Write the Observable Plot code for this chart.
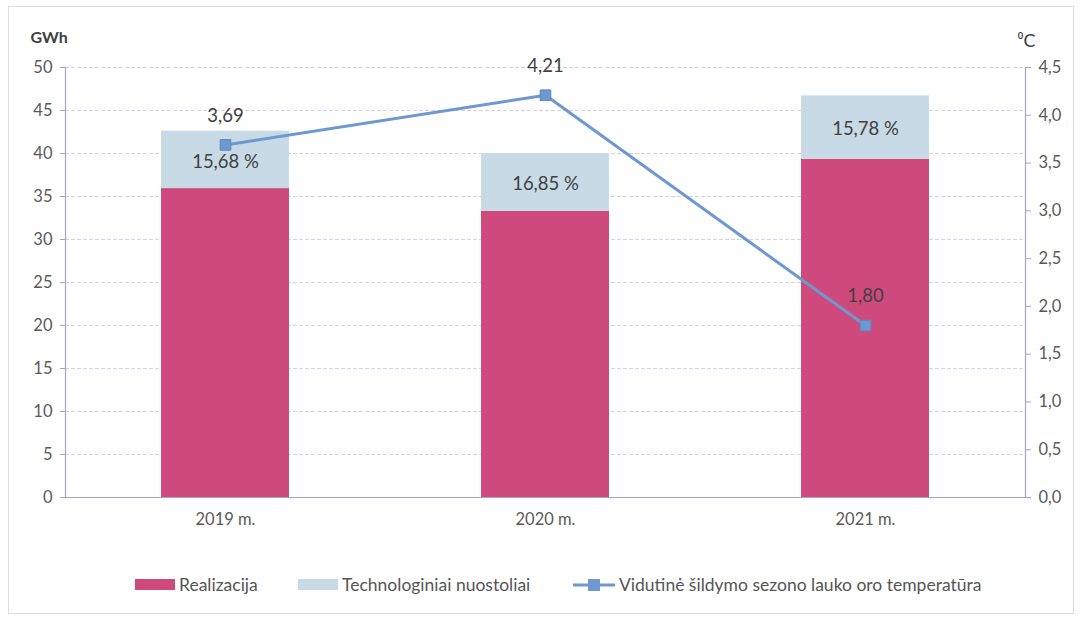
<!DOCTYPE html>
<html>
<head>
<meta charset="utf-8">
<script src="https://cdn.jsdelivr.net/npm/d3@7"></script>
<script src="https://cdn.jsdelivr.net/npm/@observablehq/plot@0.6"></script>
<style>
  html, body { margin: 0; padding: 0; background: #fff; }
  #wrap { position: relative; width: 1081px; height: 622px; overflow: hidden; font-family: Lato, "Open Sans", sans-serif; }
  #frame { position: absolute; left: 8px; top: 6px; width: 1066px; height: 608px; border: 1px solid #dcdde8; box-sizing: border-box; }
  #chart { position: absolute; left: 0; top: 0; }
  #legend { position: absolute; top: 574px; left: 135px; width: 900px; height: 24px; font-size: 17.5px; color: #555; }
  .item { position: absolute; top: 0; display: flex; align-items: center; white-space: nowrap; }
  .sw { width: 40px; height: 11px; margin-right: 4px; }
</style>
</head>
<body>
<div id="wrap">
  <div id="frame"></div>
  <div id="chart"></div>
  <div id="legend"></div>
</div>
<script>
const years = ["2019 m.", "2020 m.", "2021 m."];
const realizacija = [35.92, 33.26, 39.33];
const nuostoliai = [6.68, 6.74, 7.37];
const nuostoliaiPct = [15.68, 16.85, 15.78];
const temperatura = [3.69, 4.21, 1.80];
const gwhTicks = [0, 5, 10, 15, 20, 25, 30, 35, 40, 45, 50];
const tempTicks = [0, 0.5, 1, 1.5, 2, 2.5, 3, 3.5, 4, 4.5];
const seriesNames = ["Realizacija", "Technologiniai nuostoliai", "Vidutinė šildymo sezono lauko oro temperatūra"];
const colors = ["#cf4a7c", "#c7dae6", "#6f97d0"];

const gwhMax = 50, tempMax = 4.5;
const t2y = t => t * gwhMax / tempMax;
const comma = (v, d) => v.toFixed(d).replace(".", ",");

const bars = [];
years.forEach((y, i) => {
  bars.push({year: y, series: seriesNames[0], value: realizacija[i]});
  bars.push({year: y, series: seriesNames[1], value: nuostoliai[i]});
});
const pctLabels = years.map((y, i) => ({year: y, y: realizacija[i] + nuostoliai[i] / 2, text: comma(nuostoliaiPct[i], 2) + " %"}));
const temps = years.map((y, i) => ({year: y, t: temperatura[i], y: t2y(temperatura[i])}));

const axisColor = "#a8a3c2";
const tickText = "#5a5a5a";

const plot = Plot.plot({
  width: 1081,
  height: 545,
  marginTop: 67,
  marginLeft: 65,
  marginRight: 56,
  marginBottom: 48,
  style: {fontFamily: "Lato, 'Open Sans', sans-serif", fontSize: "16.5px", color: tickText, background: "transparent"},
  x: {domain: years, paddingInner: 0.6, paddingOuter: 0.3, label: null},
  y: {domain: [0, gwhMax], label: null},
  color: {domain: seriesNames.slice(0, 2), range: colors.slice(0, 2)},
  marks: [
    Plot.gridY(gwhTicks.slice(1), {stroke: "#d9cfe2", strokeOpacity: 1, strokeDasharray: "4,2"}),
    Plot.barY(bars, {x: "year", y: "value", fill: "series", order: seriesNames.slice(0, 2)}),
    Plot.ruleY([0], {stroke: axisColor, strokeWidth: 1.2}),
    Plot.frame({anchor: "left", stroke: axisColor, strokeWidth: 1.2}),
    Plot.frame({anchor: "right", stroke: axisColor, strokeWidth: 1.2}),
    Plot.axisY(gwhTicks, {anchor: "left", tickSize: 5, tickPadding: 8, stroke: axisColor, fill: tickText, label: null, tickFormat: d => String(d)}),
    Plot.axisY(tempTicks.map(t2y), {anchor: "right", tickSize: 5, tickPadding: 8, stroke: axisColor, fill: tickText, label: null, tickFormat: v => comma(v * tempMax / gwhMax, 1)}),
    Plot.axisX({tickSize: 0, tickPadding: 16, fill: tickText, label: null}),
    Plot.text(pctLabels, {x: "year", y: "y", text: "text", fill: "#404040", fontSize: 18.5, dy: 2}),
    Plot.line(temps, {x: "year", y: "y", stroke: colors[2], strokeWidth: 3}),
    Plot.dot(temps, {x: "year", y: "y", symbol: "square", r: 6, fill: colors[2], stroke: "#5f88c4", strokeWidth: 1}),
    Plot.text(temps, {x: "year", y: "y", text: d => comma(d.t, 2), dy: -29, fill: "#404040", fontSize: 18.5}),
    Plot.text(["GWh"], {frameAnchor: "top-left", dx: -35, dy: -36, fontWeight: "bold", fill: "#404040", fontSize: 16, textAnchor: "start"}),
    Plot.text(["⁰C"], {frameAnchor: "top-right", dx: -8, dy: -33, fill: "#404040", fontSize: 18, textAnchor: "start"})
  ]
});
document.getElementById("chart").appendChild(plot);

const legend = document.getElementById("legend");
const legendLeft = [0, 163, 438];
seriesNames.forEach((name, i) => {
  const item = document.createElement("div");
  item.className = "item";
  item.style.left = legendLeft[i] + "px";
  if (i < 2) {
    item.innerHTML = `<div class="sw" style="background:${colors[i]}"></div><span>${name}</span>`;
  } else {
    item.innerHTML = `<svg width="42" height="14" style="margin-right:4px"><line x1="0" y1="7" x2="42" y2="7" stroke="${colors[2]}" stroke-width="3"/><rect x="15" y="1" width="12" height="12" fill="${colors[2]}"/></svg><span>${name}</span>`;
  }
  legend.appendChild(item);
});
</script>
</body>
</html>
